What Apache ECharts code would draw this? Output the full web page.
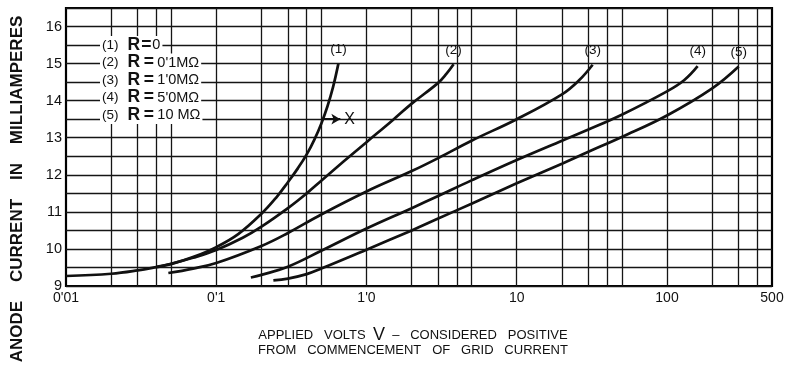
<!DOCTYPE html>
<html><head><meta charset="utf-8">
<script src="https://cdn.jsdelivr.net/npm/echarts@6/dist/echarts.min.js"></script>
<style>html,body{margin:0;padding:0;background:#fff}#c{width:792px;height:370px}</style>
</head><body><div id="c"></div>
<script>
// ---- data ----
const curve1 = [[0.01,9.27],[0.02,9.33],[0.03,9.42],[0.04,9.51],[0.05,9.59],[0.07,9.78],[0.1,10.05],[0.14,10.4],[0.2,10.95],[0.25,11.38],[0.3,11.8],[0.35,12.18],[0.4,12.55],[0.45,12.95],[0.5,13.38],[0.55,13.85],[0.6,14.38],[0.65,15.0]];
const curve2 = [[0.04,9.52],[0.05,9.6],[0.07,9.76],[0.1,9.97],[0.15,10.3],[0.2,10.6],[0.3,11.1],[0.4,11.5],[0.5,11.84],[0.7,12.35],[1.0,12.88],[1.5,13.48],[2,13.92],[3,14.48],[3.4,14.72],[3.8,14.98]];
const curve3 = [[0.048,9.35],[0.07,9.47],[0.1,9.62],[0.2,10.08],[0.3,10.43],[0.5,10.93],[1,11.55],[2,12.1],[3,12.45],[5,12.92],[10,13.5],[20,14.17],[26,14.55],[32,14.97]];
const curve4 = [[0.17,9.23],[0.2,9.3],[0.3,9.52],[0.5,9.95],[1,10.55],[2,11.1],[3,11.43],[5,11.85],[10,12.4],[20,12.92],[30,13.22],[50,13.62],[100,14.25],[130,14.55],[160,14.93]];
const curve5 = [[0.24,9.15],[0.3,9.2],[0.4,9.32],[0.5,9.47],[1,9.98],[2,10.5],[3,10.82],[5,11.22],[10,11.77],[20,12.3],[30,12.62],[50,13.02],[100,13.6],[200,14.33],[300,14.92]];
const curveNames = ['(1)','(2)','(3)','(4)','(5)'];
const legendLines = [['(1)','0'],['(2)',"0'1M\u03A9"],['(3)',"1'0M\u03A9"],['(4)',"5'0M\u03A9"],['(5)','10 M\u03A9']];
const xTickValues = [0.01,0.1,1,10,100,500];
const xTickLabels = ["0'01","0'1","1'0","10","100","500"];
const gridV = [0.02,0.03,0.04,0.05,0.1,0.2,0.3,0.4,0.5,1,2,3,4,5,10,20,30,40,50,100,200,300,400];
const arrowFrom = [0.52,13.5], arrowTo = [0.67,13.5];

const FONT = '"Liberation Sans", Arial, sans-serif';
const chart = echarts.init(document.getElementById('c'));
const curves = [curve1,curve2,curve3,curve4,curve5];

const series = curves.map((d,i)=>({
  type:'line', data:d, smooth:0.4, showSymbol:false, symbol:'none', silent:true,
  lineStyle:{color:'#111', width:2.7}, z:5,
  markPoint:{symbol:'circle', symbolSize:1, itemStyle:{color:'rgba(0,0,0,0)'},
    label:{show:true, position:'top', distance:7, color:'#111', fontSize:13.5, fontFamily:FONT, formatter:curveNames[i]},
    data:[{coord:d[d.length-1]}]}
}));
series[0].markLine = {silent:true, symbol:['none','arrow'], symbolSize:[8,9],
  lineStyle:{color:'#111', width:2, type:'solid'},
  label:{show:true, position:'end', formatter:'X', color:'#111', fontSize:16, fontFamily:FONT, distance:4},
  data:[[{coord:arrowFrom},{coord:arrowTo}]]};
series.push({type:'line', data:[[0.01,9]], symbol:'none', silent:true, z:1,
  markLine:{silent:true, symbol:['none','none'], label:{show:false},
    lineStyle:{color:'#151515', width:1.3, type:'solid'},
    data: gridV.map(v=>({xAxis:v}))}});

const graphics = [];
legendLines.forEach((l,i)=>{
  const sp = i===0 ? [0,1,0,1] : [0,3.5,0,3.5];
  graphics.push({type:'text', left:100, top:36+i*17.5, z:10,
    style:{text:'{n|'+l[0]+'}{r|R}{e|=}{v|'+l[1]+'}', backgroundColor:'#fff', padding:[0,2,0,2],
      rich:{n:{fontSize:13.5,fontFamily:FONT,fill:'#111', padding:[0,9,0,0]},
            r:{fontSize:17.5,fontWeight:'bold',fontFamily:FONT,fill:'#111'},
            e:{fontSize:17.5,fontWeight:'bold',fontFamily:FONT,fill:'#111', padding:sp},
            v:{fontSize:14.5,fontFamily:FONT,fill:'#111'}}}});
});
graphics.push({type:'text', x:17, y:189, rotation:Math.PI/2, z:10,
  style:{text:'ANODE    CURRENT    IN    MILLIAMPERES', fontSize:17, fontWeight:'bold', fontFamily:FONT,
    fill:'#111', align:'center', verticalAlign:'middle'}});
graphics.push({type:'text', x:413, y:343, z:10,
  style:{text:'{t|APPLIED   VOLTS  }{v|V}{t|  \u2013   CONSIDERED   POSITIVE}\n{t|FROM   COMMENCEMENT   OF   GRID   CURRENT}',
    align:'center', verticalAlign:'middle', fill:'#111',
    rich:{t:{fontSize:13, fontFamily:FONT, fill:'#111', lineHeight:15},
          v:{fontSize:18, fontFamily:FONT, fill:'#111', lineHeight:15}}}});

chart.setOption({
  animation:false,
  backgroundColor:'#fff',
  grid:{left:66, right:20, top:8, bottom:84, show:true, borderColor:'#000', borderWidth:2.2, backgroundColor:'transparent'},
  xAxis:{type:'log', logBase:10, min:0.01, max:500,
    axisLine:{show:false}, axisTick:{show:false}, splitLine:{show:false}, minorSplitLine:{show:false},
    axisLabel:{color:'#111', fontSize:14, fontFamily:FONT, margin:5, showMaxLabel:true, showMinLabel:true,
      formatter:(v)=>{ for(let i=0;i<xTickValues.length;i++){ if(Math.abs(Math.log10(v)-Math.log10(xTickValues[i]))<0.01) return xTickLabels[i]; } return ''; }}},
  yAxis:{type:'value', min:9, max:16.5, interval:0.5,
    axisLine:{show:false}, axisTick:{show:false},
    splitLine:{show:true, lineStyle:{color:'#151515', width:1.3}},
    axisLabel:{color:'#111', fontSize:14.5, fontFamily:FONT, margin:4,
      formatter:(v)=> Math.abs(v-Math.round(v))<1e-6 ? String(Math.round(v)) : ''}},
  series:series,
  graphic:graphics
});
</script></body></html>
